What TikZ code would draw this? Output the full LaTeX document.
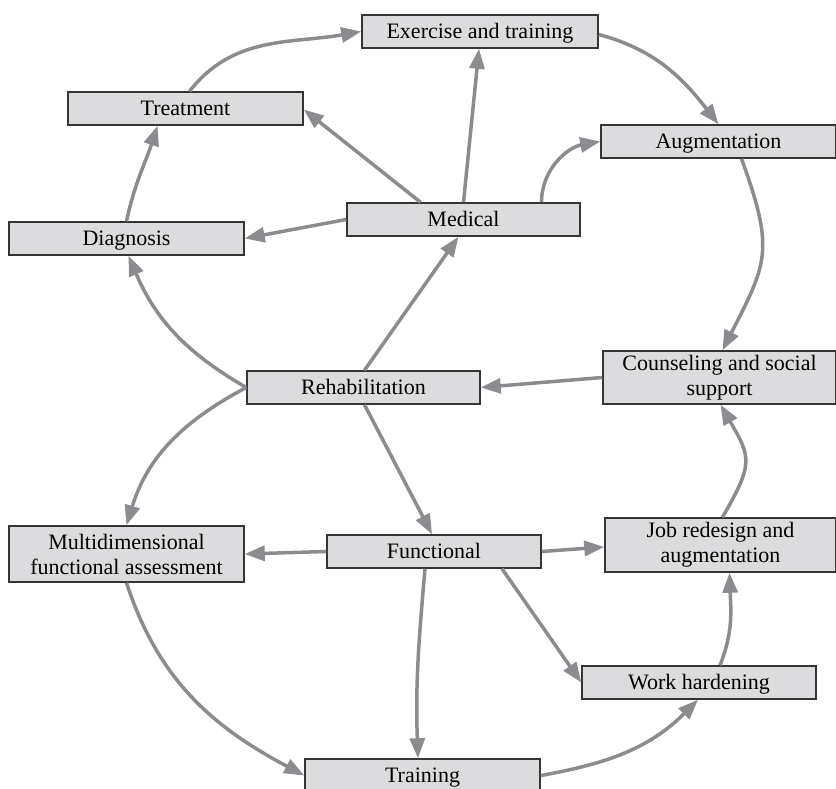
\documentclass[tikz,border=0pt]{standalone}
\usepackage{fontspec}
\setmainfont{Liberation Serif}
\usetikzlibrary{arrows.meta}
\definecolor{boxfill}{HTML}{DCDCDE}
\definecolor{boxline}{HTML}{353535}
\definecolor{flow}{HTML}{8B8C8F}
\begin{document}
\begin{tikzpicture}[x=1pt,y=1pt,
  box/.style={draw=boxline, fill=boxfill, line width=1.5pt, minimum height=33pt,
    minimum width=235pt, inner sep=0pt, align=center,
    font=\fontsize{22}{25}\selectfont},
  oneline/.style={box, text height=17pt, text depth=3pt},
  link/.style={draw=flow, line width=3.5pt,
    -{Triangle[length=20pt,width=15pt]}}]
\useasboundingbox (0,0) rectangle (836,789);

% boxes
\node[oneline, minimum width=236pt] (ex) at (480,757.5) {Exercise and training};
\node[oneline] (treat) at (185.5,680.5) {Treatment};
\node[oneline] (aug) at (718.5,647.5) {Augmentation};
\node[oneline, minimum width=233pt] (med) at (463.5,569.5) {Medical};
\node[oneline] (diag) at (126.5,550.5) {Diagnosis};
\node[oneline, minimum width=233pt] (rehab) at (363.5,401.5) {Rehabilitation};
\node[box, minimum width=233pt, minimum height=53pt] (couns) at (719.5,411.5) {Counseling and social\\support};
\node[box, minimum height=56pt] (multi) at (126.5,235) {Multidimensional\\functional assessment};
\node[oneline, minimum width=214pt] (func) at (434,237.5) {Functional};
\node[box, minimum width=231pt, minimum height=54pt] (job) at (720.5,244) {Job redesign and\\augmentation};
\node[oneline, minimum width=234pt] (work) at (699,106.5) {Work hardening};
\node[oneline] (train) at (422.5,13.5) {Training};

% connectors
\draw[link] ([xshift=4pt]treat.north) to[out=52,in=190] (ex.west);
\draw[link] ([yshift=-3pt]ex.east) to[out=-15,in=128] (aug.north);
\draw[link] (med.north) -- ([xshift=-1pt]ex.south);
\draw[link] ([xshift=-43pt]med.north) -- ([yshift=-1pt]treat.east);
\draw[link] (med.west) -- (diag.east);
\draw[link] ([xshift=78pt]med.north) to[out=90,in=190] (aug.west);
\draw[link] (diag.north) to[out=78,in=-108] ([xshift=-28pt]treat.south);
\draw[link] (rehab.west) to[out=150,in=-67] ([xshift=2pt]diag.south);
\draw[link] ([xshift=1pt]rehab.north) -- ([xshift=-5pt]med.south);
\draw[link] (couns.west) -- (rehab.east);
\draw[link] ([xshift=23pt]aug.south) to[out=-70,in=63,looseness=1.3] ([xshift=3pt]couns.north);
\draw[link] ([xshift=2pt]job.north) to[out=60,in=-60,looseness=1.4] ([xshift=1pt]couns.south);
\draw[link] (rehab.west) to[out=208,in=73] (multi.north);
\draw[link] ([xshift=1pt]rehab.south) -- ([xshift=-2pt]func.north);
\draw[link] (func.west) -- (multi.east);
\draw[link] (func.east) -- ([yshift=-2pt]job.west);
\draw[link] ([xshift=68pt]func.south) -- (work.west);
\draw[link] ([xshift=-9pt]func.south) to[out=-95,in=92] ([xshift=-4.5pt]train.north);
\draw[link] (multi.south) to[out=-72,in=152] (train.west);
\draw[link] (train.east) to[out=10,in=-135] ([xshift=-1pt]work.south);
\draw[link] ([xshift=21pt]work.north) to[out=68,in=-88] ([xshift=9pt]job.south);
\end{tikzpicture}
\end{document}
